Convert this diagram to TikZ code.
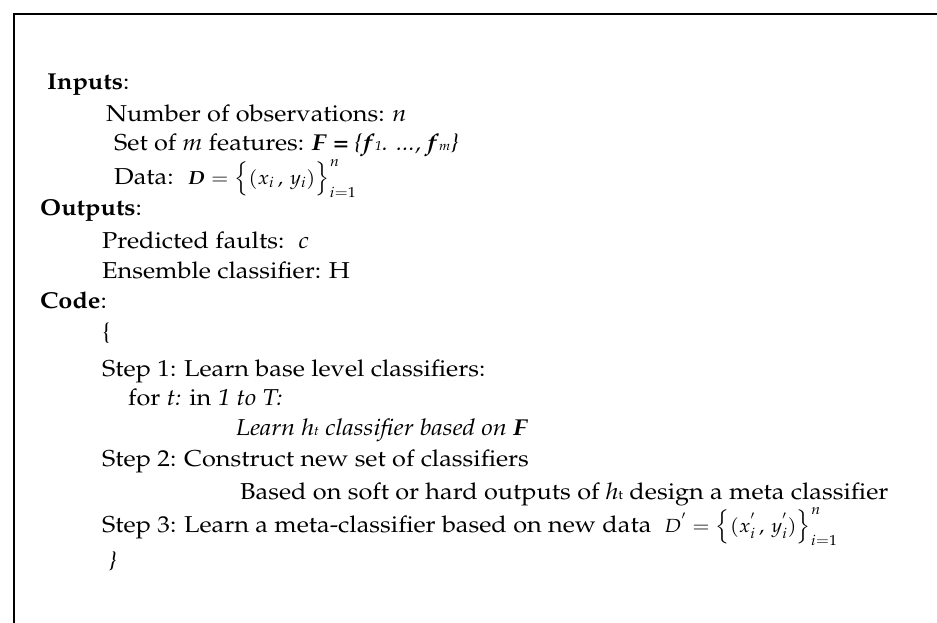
\documentclass[tikz,border=0pt]{standalone}
\usepackage[T1]{fontenc}
\usepackage{mathpazo}
\usepackage{amsmath}
\tikzset{
  txt/.style={anchor=base west, inner sep=0pt, font=\fontsize{23}{27}\selectfont},
  frameline/.style={line width=2.6pt, line cap=rect}
}
\newcommand{\subsm}[1]{{\fontsize{13}{13}\selectfont #1}}
\newcommand{\widetxt}[1]{\scalebox{1.1}[1]{#1}}
\newcommand{\mathsm}[1]{{\fontsize{19}{23}\selectfont #1}}
\begin{document}
\begin{tikzpicture}[x=1pt,y=-1pt]
\useasboundingbox (0,0) rectangle (937,622);
\coordinate (fb) at (14,640);
\coordinate (fc) at (14,14);
\coordinate (fr) at (950,14);
\draw[frameline] (fb) -- (fc) -- (fr);
\node[txt] (l1) at (47,89) {\widetxt{\textbf{Inputs}:}};
\node[txt] (l2) at (106,121) {\widetxt{Number of observations: \textit{n}}};
\node[txt] (l3) at (114,150) {\widetxt{Set of \textit{m} features: \textbf{\textit{F}} \textbf{=} \textit{\{}\textbf{\textit{f}}\subsm{\textit{1}}\textit{. ..., }\textbf{\textit{f}}\subsm{\textit{m}}\textit{\}}}};
\node[txt] (l4) at (114,184) {\widetxt{Data: \ \mathsm{$\boldsymbol{D}=\Bigl\{(x_i\,,\,y_i)\Bigr\}_{i=1}^{n}$}}};
\node[txt] (l5) at (40,215) {\widetxt{\textbf{Outputs}:}};
\node[txt] (l6) at (102,248) {\widetxt{Predicted faults: \ \textit{c}}};
\node[txt] (l7) at (102,278) {\widetxt{Ensemble classifier: H}};
\node[txt] (l8) at (40,308) {\widetxt{\textbf{Code}:}};
\node[txt] (l9) at (102,339) {\widetxt{\{}};
\node[txt] (l10) at (102,376) {\widetxt{Step 1: Learn base level classifiers:}};
\node[txt] (l11) at (128,405) {\widetxt{for \textit{t:} in \textit{1 to T:}}};
\node[txt] (l12) at (236,435) {\widetxt{\textit{Learn h\subsm{t} classifier based on \textbf{F}}}};
\node[txt] (l13) at (102,466) {\widetxt{Step 2: Construct new set of classifiers}};
\node[txt] (l14) at (240,499) {\widetxt{Based on soft or hard outputs of \textit{h}\subsm{t} design a meta classifier}};
\node[txt] (l15) at (102,532) {\widetxt{Step 3: Learn a meta-classifier based on new data \ \mathsm{$D^{'}=\Bigl\{(x_i^{'}\,,\,y_i^{'})\Bigr\}_{i=1}^{n}$}}};
\node[txt] (l16) at (108,568) {\widetxt{\textit{\}}}};
\end{tikzpicture}
\end{document}
